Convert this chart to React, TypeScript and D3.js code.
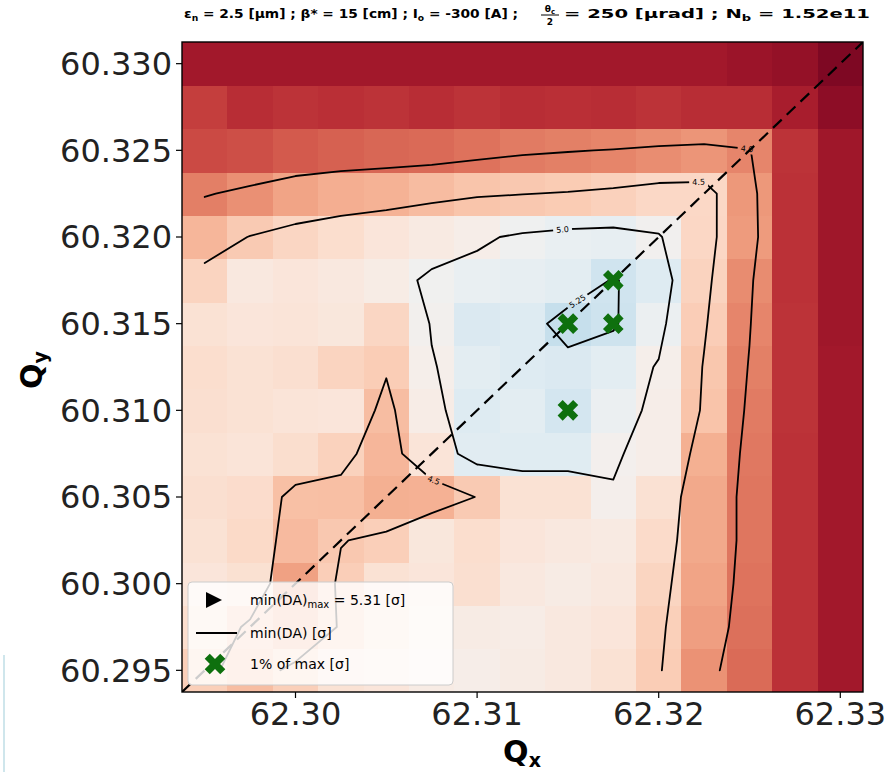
import React from "react";
import * as d3 from "d3";

// Working-point scan: tunes on each axis
const qxValues = [62.295, 62.2975, 62.3, 62.3025, 62.305, 62.3075, 62.31, 62.3125, 62.315, 62.3175, 62.32, 62.3225, 62.325, 62.3275, 62.33];
const qyValues = [60.295, 60.2975, 60.3, 60.3025, 60.305, 60.3075, 60.31, 60.3125, 60.315, 60.3175, 60.32, 60.3225, 60.325, 60.3275, 60.33];

// min(DA) [sigma]; one row per Qy (bottom to top), one entry per Qx (left to right)
const minDA = [
  [4.55, 4.40, 4.55, 4.75, 4.80, 4.90, 4.95, 4.90, 4.85, 4.75, 4.53, 4.10, 3.81, 3.33, 3.10],
  [4.70, 4.45, 4.30, 4.52, 4.70, 4.85, 4.90, 4.92, 4.85, 4.80, 4.56, 4.18, 3.85, 3.33, 3.10],
  [4.80, 4.736, 4.20, 4.545, 4.75, 4.80, 4.72, 4.85, 4.90, 4.85, 4.61, 4.22, 3.88, 3.33, 3.10],
  [4.75, 4.66, 4.38, 4.49, 4.55, 4.82, 4.70, 4.80, 4.85, 4.88, 4.67, 4.25, 3.90, 3.33, 3.10],
  [4.72, 4.687, 4.42, 4.417, 4.30, 4.31, 4.51, 4.75, 4.75, 4.99, 4.74, 4.25, 3.90, 3.33, 3.10],
  [4.75, 4.78, 4.706, 4.58, 4.35, 4.78, 5.163, 5.17, 5.17, 5.015, 4.95, 4.30, 3.92, 3.33, 3.10],
  [4.72, 4.75, 4.78, 4.80, 4.40, 4.92, 5.18, 5.15, 5.24, 5.085, 4.95, 4.455, 3.94, 3.35, 3.10],
  [4.70, 4.75, 4.72, 4.60, 4.535, 4.98, 5.15, 5.18, 5.20, 5.15, 4.98, 4.48, 3.98, 3.35, 3.10],
  [4.75, 4.80, 4.78, 4.82, 4.62, 5.02, 5.20, 5.18, 5.31, 5.27, 5.09, 4.536, 4.02, 3.35, 3.08],
  [4.60, 4.85, 4.80, 4.85, 4.91, 5.042, 5.106, 5.12, 5.15, 5.26, 5.18, 4.59, 4.06, 3.33, 3.08],
  [4.35, 4.51, 4.62, 4.70, 4.80, 4.88, 4.95, 5.05, 5.105, 5.12, 5.03, 4.633, 4.157, 3.33, 3.08],
  [3.971, 4.09, 4.22, 4.29, 4.316, 4.393, 4.461, 4.49, 4.522, 4.572, 4.64, 4.641, 4.137, 3.33, 3.08],
  [3.55, 3.59, 3.68, 3.73, 3.78, 3.80, 3.87, 3.94, 3.979, 4.016, 4.07, 4.119, 4.02, 3.35, 3.08],
  [3.45, 3.30, 3.35, 3.32, 3.35, 3.30, 3.35, 3.30, 3.32, 3.30, 3.35, 3.30, 3.30, 3.15, 2.95],
  [3.10, 3.10, 3.10, 3.10, 3.10, 3.10, 3.10, 3.10, 3.10, 3.10, 3.10, 3.10, 3.05, 3.00, 2.85],
];

const contourLevels = [4.0, 4.5, 5.0, 5.25];

// colour normalisation: min(DA) -> position on the RdBu map
const normStops = [2.8, 3.3, 4.0, 4.5, 5.0, 5.35];
const normPos = [0.02, 0.125, 0.25, 0.37, 0.49, 0.63];

// where the inline contour labels sit (tune space)
const labelLevels = [4.0, 4.5, 5.0, 4.5, 5.25];
const labelQx = [62.3249, 62.3222, 62.3147, 62.3075, 62.3154];
const labelQy = [60.3254, 60.3231, 60.3205, 60.3057, 60.3165];

// working points within 1% of the best min(DA)
const bestQx = [62.315, 62.3175, 62.3175, 62.315];
const bestQy = [60.315, 60.3175, 60.315, 60.31];

const xTicks = [62.3, 62.31, 62.32, 62.33];
const yTicks = [60.295, 60.3, 60.305, 60.31, 60.315, 60.32, 60.325, 60.33];

const W = 889;
const H = 772;
const plot = { left: 182, right: 863, top: 42, bottom: 692 };
const FONT = "'DejaVu Sans', sans-serif";

type Pt = [number, number];

// marching squares on the cell-centre lattice, in (column, row) index units
function isoSegments(grid: number[][], level: number): [Pt, Pt][] {
  const segs: [Pt, Pt][] = [];
  const nr = grid.length;
  const nc = grid[0].length;
  const f = (a: number, b: number) => (level - a) / (b - a);
  for (let r = 0; r < nr - 1; r++) {
    for (let c = 0; c < nc - 1; c++) {
      const v00 = grid[r][c], v10 = grid[r][c + 1], v11 = grid[r + 1][c + 1], v01 = grid[r + 1][c];
      const a00 = v00 >= level, a10 = v10 >= level, a11 = v11 >= level, a01 = v01 >= level;
      const e: Record<string, Pt> = {};
      if (a00 !== a10) e.b = [c + f(v00, v10), r];
      if (a10 !== a11) e.r = [c + 1, r + f(v10, v11)];
      if (a01 !== a11) e.t = [c + f(v01, v11), r + 1];
      if (a00 !== a01) e.l = [c, r + f(v00, v01)];
      const keys = Object.keys(e);
      if (keys.length === 2) segs.push([e[keys[0]], e[keys[1]]]);
      else if (keys.length === 4) {
        const centre = (v00 + v10 + v11 + v01) / 4 >= level;
        if (a00 !== centre) segs.push([e.b, e.l]);
        if (a10 !== centre) segs.push([e.b, e.r]);
        if (a11 !== centre) segs.push([e.r, e.t]);
        if (a01 !== centre) segs.push([e.t, e.l]);
      }
    }
  }
  return segs;
}

function stitch(segs: [Pt, Pt][]): Pt[][] {
  const key = (p: Pt) => p[0].toFixed(7) + "," + p[1].toFixed(7);
  const byPt = new Map<string, number[]>();
  segs.forEach((s, i) => s.forEach((p) => {
    const k = key(p);
    if (!byPt.has(k)) byPt.set(k, []);
    byPt.get(k)!.push(i);
  }));
  const unused = new Set(segs.map((_, i) => i));
  const lines: Pt[][] = [];
  while (unused.size) {
    const first = unused.values().next().value as number;
    unused.delete(first);
    const line: Pt[] = [segs[first][0], segs[first][1]];
    for (const dir of [1, -1]) {
      for (;;) {
        const end = dir === 1 ? line[line.length - 1] : line[0];
        const cands = (byPt.get(key(end)) || []).filter((i) => unused.has(i));
        if (!cands.length) break;
        const i = cands[0];
        unused.delete(i);
        const s = segs[i];
        const next = key(s[0]) === key(end) ? s[1] : s[0];
        if (dir === 1) line.push(next);
        else line.unshift(next);
      }
    }
    lines.push(line);
  }
  return lines;
}

// filled "X" marker
function xMarkerPath(L: number, a: number) {
  const pts: Pt[] = [
    [-a, -L], [a, -L], [a, -a], [L, -a], [L, a], [a, a],
    [a, L], [-a, L], [-a, a], [-L, a], [-L, -a], [-a, -a],
  ];
  const c = Math.SQRT1_2;
  return "M" + pts.map(([x, y]) => `${(x * c - y * c).toFixed(2)},${(x * c + y * c).toFixed(2)}`).join("L") + "Z";
}

export default function App() {
  const half = (qxValues[1] - qxValues[0]) / 2;
  const x = d3.scaleLinear().domain([qxValues[0] - half, qxValues[qxValues.length - 1] + half]).range([plot.left, plot.right]);
  const y = d3.scaleLinear().domain([qyValues[0] - half, qyValues[qyValues.length - 1] + half]).range([plot.bottom, plot.top]);
  const colIdx = d3.scaleLinear().domain([0, qxValues.length - 1]).range([qxValues[0], qxValues[qxValues.length - 1]]);
  const rowIdx = d3.scaleLinear().domain([0, qyValues.length - 1]).range([qyValues[0], qyValues[qyValues.length - 1]]);
  const norm = d3.scaleLinear().domain(normStops).range(normPos).clamp(true);
  const color = (v: number) => d3.interpolateRdBu(norm(v));

  const toPx = (p: Pt): Pt => [x(colIdx(p[0])), y(rowIdx(p[1]))];
  const contours = contourLevels.map((level) => ({
    level,
    lines: stitch(isoSegments(minDA, level)).map((l) => l.map(toPx)),
  }));
  const line = d3.line<Pt>();

  // inline contour labels: nearest point on the line and its local direction
  const labelFont = 8;
  const labels = labelLevels.map((level, i) => {
    const tx = x(labelQx[i]);
    const ty = y(labelQy[i]);
    const cont = contours.find((c) => c.level === level)!;
    let best = { d: Infinity, px: tx, py: ty, ang: 0 };
    for (const l of cont.lines) {
      for (let k = 0; k < l.length - 1; k++) {
        const [x0, y0] = l[k];
        const [x1, y1] = l[k + 1];
        const dx = x1 - x0, dy = y1 - y0;
        const len2 = dx * dx + dy * dy || 1;
        const t = Math.max(0, Math.min(1, ((tx - x0) * dx + (ty - y0) * dy) / len2));
        const px = x0 + t * dx, py = y0 + t * dy;
        const d = Math.hypot(px - tx, py - ty);
        if (d < best.d) {
          let ang = (Math.atan2(dy, dx) * 180) / Math.PI;
          if (ang > 90) ang -= 180;
          if (ang < -90) ang += 180;
          best = { d, px, py, ang };
        }
      }
    }
    const text = level.toFixed(level * 10 === Math.round(level * 10) ? 1 : 2);
    return { text, x: best.px, y: best.py, ang: best.ang, w: text.length * labelFont * 0.62 };
  });

  // best working point (largest min(DA))
  let maxR = 0, maxC = 0;
  minDA.forEach((row, r) => row.forEach((v, c) => {
    if (v > minDA[maxR][maxC]) { maxR = r; maxC = c; }
  }));
  const maxVal = minDA[maxR][maxC];

  const xPath = xMarkerPath(11, 3.6);
  const triPath = "M-7,-8L9,0L-7,8Z";

  const cellW = x(qxValues[1]) - x(qxValues[0]);
  const cellH = y(qyValues[0]) - y(qyValues[1]);

  return (
    <svg width={W} height={H} viewBox={`0 0 ${W} ${H}`} style={{ position: "absolute", left: 0, top: 0, background: "#fff" }} fontFamily={FONT}>
      <defs>
        <mask id="clabel-gap" maskUnits="userSpaceOnUse" x={0} y={0} width={W} height={H}>
          <rect x={0} y={0} width={W} height={H} fill="#fff" />
          {labels.map((lb, i) => (
            <rect key={i} x={-lb.w / 2 - 2} y={-labelFont / 2 - 1} width={lb.w + 4} height={labelFont + 2} fill="#000"
              transform={`translate(${lb.x},${lb.y}) rotate(${lb.ang})`} />
          ))}
        </mask>
        <clipPath id="plot-area">
          <rect x={plot.left} y={plot.top} width={plot.right - plot.left} height={plot.bottom - plot.top} />
        </clipPath>
      </defs>

      {/* faint edge of a neighbouring panel */}
      <line x1={4} x2={4} y1={655} y2={772} stroke="#cfe6ec" strokeWidth={2} />

      {/* title */}
      <g fontWeight="bold" fontSize={12} fill="#000">
        <text x={184} y={18} textLength={334} lengthAdjust="spacingAndGlyphs">
          ε<tspan fontSize={8} dy={3}>n</tspan><tspan dy={-3}> = 2.5 [μm] ;  β* = 15 [cm] ;  I</tspan><tspan fontSize={8} dy={3}>o</tspan><tspan dy={-3}> = -300 [A] ;</tspan>
        </text>
        <text x={550} y={12} fontSize={9} textAnchor="middle">θ<tspan fontSize={7} dy={2}>c</tspan></text>
        <line x1={541} x2={559} y1={15} y2={15} stroke="#000" strokeWidth={1} />
        <text x={550} y={25} fontSize={9} textAnchor="middle">2</text>
        <text x={564} y={18} textLength={306} lengthAdjust="spacingAndGlyphs">
          = 250 [μrad] ;  N<tspan fontSize={8} dy={3}>b</tspan><tspan dy={-3}> = 1.52e11</tspan>
        </text>
      </g>

      {/* heatmap cells */}
      <g clipPath="url(#plot-area)" shapeRendering="crispEdges">
        {minDA.map((row, r) => row.map((v, c) => (
          <rect key={`${r}-${c}`} x={x(qxValues[c]) - cellW / 2} y={y(qyValues[r]) - cellH / 2}
            width={cellW + 0.6} height={cellH + 0.6} fill={color(v)} />
        )))}
      </g>

      {/* contour lines with inline gaps for labels */}
      <g mask="url(#clabel-gap)" fill="none" stroke="#000" strokeWidth={1.8} strokeLinejoin="round" strokeLinecap="round">
        {contours.map((c) => c.lines.map((l, i) => <path key={`${c.level}-${i}`} d={line(l) || ""} />))}
      </g>
      <g fontSize={labelFont} fill="#000" textAnchor="middle">
        {labels.map((lb, i) => (
          <text key={i} transform={`translate(${lb.x},${lb.y}) rotate(${lb.ang})`} dy="0.35em">{lb.text}</text>
        ))}
      </g>

      {/* Qx - Qy = 2 diagonal */}
      <line x1={x(qxValues[0] - half)} y1={y(qxValues[0] - half - 2)} x2={x(qxValues[14] + half)} y2={y(qxValues[14] + half - 2)}
        stroke="#000" strokeWidth={2.2} strokeDasharray="12 7" clipPath="url(#plot-area)" />

      {/* best point and 1% neighbourhood */}
      <path d={triPath} transform={`translate(${x(qxValues[maxC])},${y(qyValues[maxR])}) scale(0.6)`} fill="#000" />
      {bestQx.map((q, i) => (
        <path key={i} d={xPath} transform={`translate(${x(q)},${y(bestQy[i])})`} fill="#0e700e" />
      ))}

      {/* frame */}
      <rect x={plot.left} y={plot.top} width={plot.right - plot.left} height={plot.bottom - plot.top} fill="none" stroke="#000" strokeWidth={1.4} />

      {/* axes */}
      <g fontSize={32} fill="#222">
        {xTicks.map((t) => (
          <g key={t}>
            <line x1={x(t)} x2={x(t)} y1={plot.bottom} y2={plot.bottom + 6} stroke="#000" strokeWidth={1.2} />
            <text x={x(t)} y={plot.bottom + 33} textAnchor="middle">{t.toFixed(2)}</text>
          </g>
        ))}
        {yTicks.map((t) => (
          <g key={t}>
            <line x1={plot.left - 6} x2={plot.left} y1={y(t)} y2={y(t)} stroke="#000" strokeWidth={1.2} />
            <text x={plot.left - 10} y={y(t)} dy="0.35em" textAnchor="end">{t.toFixed(3)}</text>
          </g>
        ))}
      </g>
      <text x={522} y={762} fontSize={30} fontWeight="bold" textAnchor="middle">Q<tspan fontSize={19} dy={5}>x</tspan></text>
      <text transform="translate(42,370) rotate(-90)" fontSize={30} fontWeight="bold" textAnchor="middle">Q<tspan fontSize={19} dy={5}>y</tspan></text>

      {/* legend */}
      <g>
        <rect x={188} y={582} width={265} height={103} rx={4} fill="#fff" fillOpacity={0.8} stroke="#cccccc" />
        <path d={triPath} transform="translate(213,600)" fill="#000" />
        <text x={250} y={605} fontSize={14}>min(DA)<tspan fontSize={10} dy={3}>max</tspan><tspan dy={-3}> = {maxVal.toFixed(2)} [σ]</tspan></text>
        <line x1={196} x2={237} y1={633} y2={633} stroke="#000" strokeWidth={1.8} />
        <text x={250} y={638} fontSize={14}>min(DA) [σ]</text>
        <path d={xPath} transform="translate(215,664)" fill="#0e700e" />
        <text x={250} y={669} fontSize={14}>1% of max [σ]</text>
      </g>
    </svg>
  );
}
